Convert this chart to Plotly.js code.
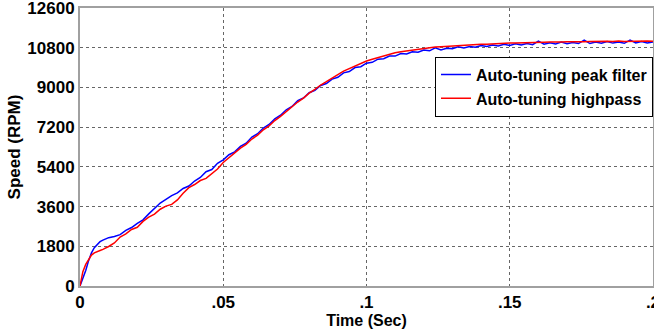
<!DOCTYPE html>
<html>
<head>
<meta charset="utf-8">
<script src="https://cdn.plot.ly/plotly-3.0.1.min.js"></script>
<style>html,body{margin:0;padding:0;background:#fff;}#chart{width:654px;height:329px;}</style>
</head>
<body>
<div id="chart"></div>
<script>
const timeSec = [0, .001, .002, .003, .004, .005, .006, .007, .008, .009, .010,
  .012, .014, .016, .018, .020, .022, .024, .026, .028, .030,
  .032, .034, .036, .038, .040, .042, .044, .046, .048, .050,
  .052, .054, .056, .058, .060, .062, .064, .066, .068, .070,
  .072, .074, .076, .078, .080, .082, .084, .086, .088, .090,
  .092, .094, .096, .098, .100, .102, .104, .106, .108, .110,
  .112, .114, .116, .118, .120, .122, .124, .126, .128, .130,
  .132, .134, .136, .138, .140, .142, .144, .146, .148, .150,
  .152, .154, .156, .158, .160, .162, .164, .166, .168, .170,
  .172, .174, .176, .178, .180, .182, .184, .186, .188, .190,
  .192, .194, .196, .198, .200];

const speedPeak = [0, 320, 700, 1150, 1500, 1740, 1900, 2010, 2080, 2150, 2190,
  2240, 2330, 2520, 2650, 2840, 3000, 3270, 3500, 3760, 3930,
  4100, 4220, 4420, 4530, 4760, 4920, 5180, 5280, 5560, 5720,
  5950, 6080, 6330, 6470, 6750, 6900, 7160, 7320, 7580, 7740,
  7990, 8140, 8400, 8520, 8760, 8870, 9090, 9180, 9380, 9460,
  9660, 9720, 9900, 9940, 10100, 10140, 10280, 10300, 10420, 10420,
  10540, 10520, 10620, 10600, 10700, 10660, 10800, 10700, 10780, 10760,
  10840, 10790, 10860, 10820, 10900, 10860, 10920, 10880, 10960, 10900,
  10980, 10920, 10990, 10940, 11100, 10960, 11020, 10970, 11060, 10980,
  11040, 10990, 11150, 10990, 11060, 11000, 11080, 11010, 11060, 11000,
  11150, 11020, 11080, 11020, 11060];

const speedHighpass = [0, 650, 980, 1220, 1400, 1500, 1570, 1610, 1660, 1720, 1790,
  1950, 2220, 2360, 2560, 2660, 2930, 3120, 3260, 3480, 3620,
  3700, 3900, 4200, 4460, 4600, 4780, 4880, 5080, 5300, 5600,
  5820, 6000, 6250, 6420, 6660, 6840, 7080, 7260, 7500, 7690,
  7920, 8110, 8340, 8520, 8740, 8910, 9110, 9260, 9440, 9580,
  9740, 9850, 9990, 10080, 10200, 10280, 10360, 10440, 10510, 10570,
  10620, 10660, 10700, 10740, 10770, 10800, 10830, 10850, 10870, 10880,
  10900, 10910, 10930, 10940, 10960, 10960, 10980, 10990, 11000, 11010,
  11020, 11020, 11030, 11040, 11040, 11050, 11060, 11050, 11060, 11070,
  11060, 11080, 11070, 11080, 11090, 11070, 11090, 11080, 11100, 11080,
  11090, 11100, 11080, 11100, 11090];

const seriesNames = ['Auto-tuning peak filter', 'Auto-tuning highpass'];
const xTickVals = [0, 0.05, 0.1, 0.15, 0.2];
const xTickText = ['0', '.05', '.1', '.15', '.2'];
const yTickVals = [0, 1800, 3600, 5400, 7200, 9000, 10800, 12600];
const yTickText = ['0', '1800', '3600', '5400', '7200', '9000', '10800', '12600'];

const FONT = 'Liberation Sans, Arial, sans-serif';

const traces = [
  {x: timeSec, y: speedPeak, name: seriesNames[0], type: 'scatter', mode: 'lines',
   line: {color: '#0000ff', width: 1.5}},
  {x: timeSec, y: speedHighpass, name: seriesNames[1], type: 'scatter', mode: 'lines',
   line: {color: '#ff0000', width: 1.5}}
];

const axisCommon = {
  showline: true, mirror: true, linecolor: '#a0a0a0', linewidth: 2,
  showgrid: true, gridcolor: '#666', griddash: 'dot', gridwidth: 1,
  zeroline: false, ticks: '', ticklabeloverflow: 'allow',
  tickfont: {family: FONT, size: 17, color: '#000', weight: 'bold'}
};

const layout = {
  width: 654, height: 329,
  margin: {l: 80, r: 1, t: 8, b: 43},
  paper_bgcolor: '#fff', plot_bgcolor: '#fff',
  showlegend: true,
  legend: {
    x: 1, xanchor: 'right', y: 0.825, yanchor: 'top',
    bgcolor: '#fff', bordercolor: '#000', borderwidth: 1,
    font: {family: FONT, size: 16, color: '#000', weight: 'bold'},
    tracegroupgap: 0
  },
  xaxis: Object.assign({}, axisCommon, {
    range: [0, 0.20001], tickvals: xTickVals, ticktext: xTickText,
    title: {text: 'Time (Sec)', standoff: 0, font: {family: FONT, size: 16, color: '#000', weight: 'bold'}}
  }),
  yaxis: Object.assign({}, axisCommon, {
    range: [0, 12601], tickvals: yTickVals, ticktext: yTickText,
    title: {text: 'Speed (RPM)', standoff: 2, font: {family: FONT, size: 17, color: '#000', weight: 'bold'}}
  })
};

Plotly.newPlot('chart', traces, layout, {displayModeBar: false, staticPlot: true});
</script>
</body>
</html>
